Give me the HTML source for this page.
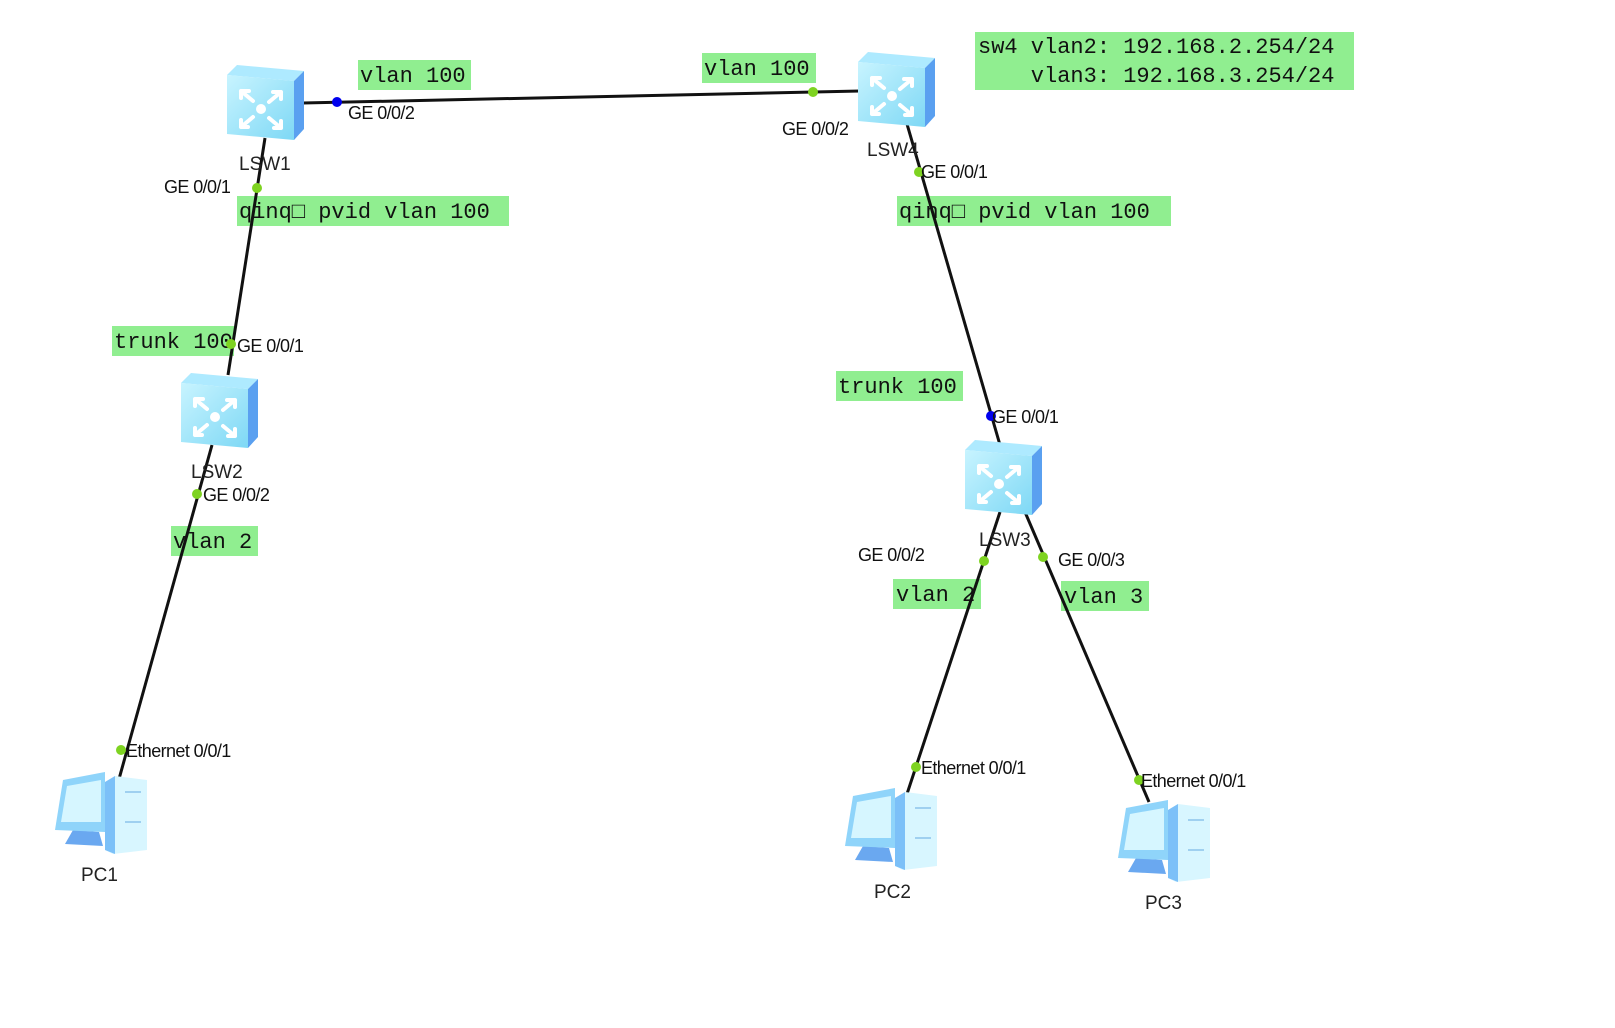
<!DOCTYPE html>
<html><head><meta charset="utf-8"><style>
html,body{margin:0;padding:0;background:#fff;width:1615px;height:1028px;overflow:hidden}
svg{display:block}
.b{font-family:"Liberation Mono","DejaVu Sans Mono",monospace;font-size:22px;fill:#111;white-space:pre}
.p{font-family:"Liberation Sans",sans-serif;font-size:18px;fill:#111;letter-spacing:-0.6px}
.n{font-family:"Liberation Sans",sans-serif;font-size:19px;fill:#222}
</style></head><body>
<svg width="1615" height="1028" viewBox="0 0 1615 1028" xmlns="http://www.w3.org/2000/svg">
<defs>
<linearGradient id="fg" x1="0" y1="0" x2="1" y2="1"><stop offset="0" stop-color="#c8f4ff"/><stop offset="1" stop-color="#7ed8f5"/></linearGradient>
<g id="sw">
<polygon points="0,10 10,0 77,6 67,16" fill="#aeeaff"/>
<polygon points="67,16 77,6 77,64 67,75" fill="#5aa0f0"/>
<polygon points="0,10 67,16 67,75 0,69" fill="url(#fg)"/>
<g stroke="#fff" stroke-width="4" fill="none" stroke-linecap="round">
<path d="M14,26 L26,36 M14,26 L22,26 M14,26 L14,33"/>
<path d="M54,27 L42,37 M54,27 L46,27 M54,27 L54,34"/>
<path d="M14,62 L26,52 M14,62 L14,55 M14,62 L21,62"/>
<path d="M54,63 L42,53 M54,63 L54,56 M54,63 L47,63"/>
</g>
<circle cx="34" cy="44" r="5" fill="#fff"/>
</g>
<g id="pc">
<polygon points="50,12 60,6 92,10 92,80 58,84 50,80" fill="#d8f6ff"/>
<polygon points="50,12 60,6 60,84 50,80" fill="#7cc0f8"/>
<polygon points="18,60 44,62 48,76 10,74" fill="#6aa8f0"/>
<polygon points="8,10 50,2 50,62 0,60" fill="#8fd4fa"/>
<polygon points="12,16 46,10 46,52 6,52" fill="#d6f6ff"/>
<line x1="70" y1="22" x2="86" y2="22" stroke="#9fd0f0" stroke-width="2"/>
<line x1="70" y1="52" x2="86" y2="52" stroke="#9fd0f0" stroke-width="2"/>
</g>
</defs>

<g stroke="#111" stroke-width="3" fill="none">
<line x1="303" y1="103" x2="860" y2="91"/>
</g>

<g fill="#90ee90">
<rect x="358" y="60" width="113" height="30"/>
<rect x="702" y="53" width="114" height="30"/>
<rect x="975" y="32" width="379" height="58"/>
<rect x="237" y="196" width="272" height="30"/>
<rect x="897" y="196" width="274" height="30"/>
<rect x="112" y="326" width="122" height="30"/>
<rect x="836" y="371" width="127" height="30"/>
<rect x="171" y="526" width="87" height="30"/>
<rect x="893" y="579" width="88" height="30"/>
<rect x="1061" y="581" width="88" height="30"/>
</g>
<g class="b">
<text x="360" y="82">vlan 100</text>
<text x="704" y="75">vlan 100</text>
<text x="978" y="53">sw4 vlan2: 192.168.2.254/24</text>
<text x="978" y="82" xml:space="preserve">    vlan3: 192.168.3.254/24</text>
<text x="239" y="218">qinq□ pvid vlan 100</text>
<text x="899" y="218">qinq□ pvid vlan 100</text>
<text x="114" y="348">trunk 100</text>
<text x="838" y="393">trunk 100</text>
<text x="173" y="548">vlan 2</text>
<text x="896" y="601">vlan 2</text>
<text x="1064" y="603">vlan 3</text>
</g>

<g stroke="#111" stroke-width="3" fill="none">
<line x1="265" y1="138" x2="228" y2="375"/>
<line x1="212" y1="445" x2="114" y2="797"/>
<line x1="907" y1="124" x2="1000" y2="445"/>
<line x1="1000" y1="512" x2="905" y2="800"/>
<line x1="1025" y1="512" x2="1149" y2="802"/>
</g>

<use href="#sw" x="227" y="65"/>
<use href="#sw" x="858" y="52"/>
<use href="#sw" x="181" y="373"/>
<use href="#sw" x="965" y="440"/>
<use href="#pc" x="55" y="770"/>
<use href="#pc" x="845" y="786"/>
<use href="#pc" x="1118" y="798"/>

<circle cx="337" cy="102" r="5" fill="#0000ee"/>
<circle cx="813" cy="92" r="5" fill="#7ed321"/>
<circle cx="257" cy="188" r="5" fill="#7ed321"/>
<circle cx="919" cy="172" r="5" fill="#7ed321"/>
<circle cx="231" cy="344" r="5" fill="#7ed321"/>
<circle cx="197" cy="494" r="5" fill="#7ed321"/>
<circle cx="991" cy="416" r="5" fill="#0000ee"/>
<circle cx="984" cy="561" r="5" fill="#7ed321"/>
<circle cx="1043" cy="557" r="5" fill="#7ed321"/>
<circle cx="121" cy="750" r="5" fill="#7ed321"/>
<circle cx="916" cy="767" r="5" fill="#7ed321"/>
<circle cx="1139" cy="780" r="5" fill="#7ed321"/>

<g class="p">
<text x="348" y="119">GE 0/0/2</text>
<text x="782" y="135">GE 0/0/2</text>
<text x="164" y="193">GE 0/0/1</text>
<text x="921" y="178">GE 0/0/1</text>
<text x="237" y="352">GE 0/0/1</text>
<text x="203" y="501">GE 0/0/2</text>
<text x="992" y="423">GE 0/0/1</text>
<text x="858" y="561">GE 0/0/2</text>
<text x="1058" y="566">GE 0/0/3</text>
<text x="126" y="757">Ethernet 0/0/1</text>
<text x="921" y="774">Ethernet 0/0/1</text>
<text x="1141" y="787">Ethernet 0/0/1</text>
</g>
<g class="n">
<text x="239" y="170">LSW1</text>
<text x="867" y="156">LSW4</text>
<text x="191" y="478">LSW2</text>
<text x="979" y="546">LSW3</text>
<text x="81" y="881">PC1</text>
<text x="874" y="898">PC2</text>
<text x="1145" y="909">PC3</text>
</g>
</svg>
</body></html>
